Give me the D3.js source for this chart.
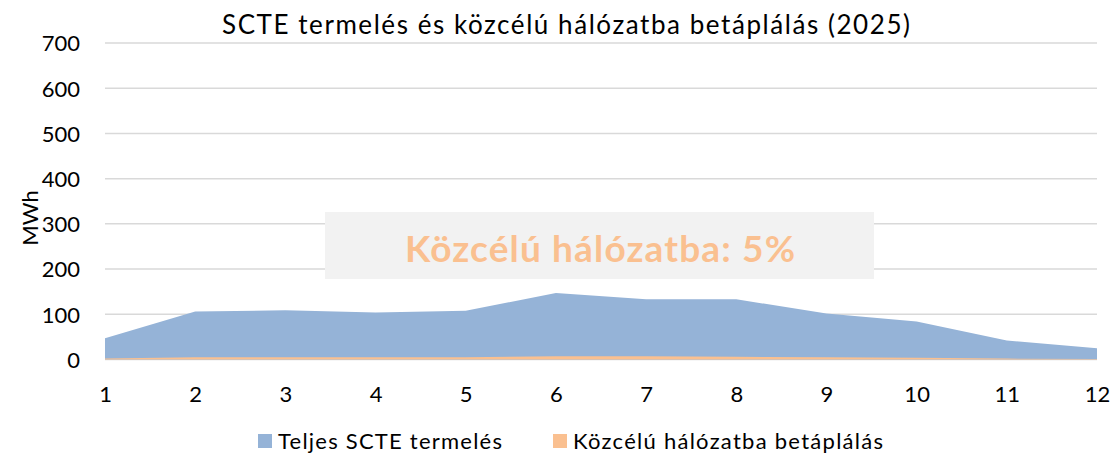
<!DOCTYPE html>
<html><head><meta charset="utf-8">
<script src="https://cdn.jsdelivr.net/npm/d3@7"></script>
<style>body{margin:0;background:#fff}svg{display:block}text{font-family:Lato,"Open Sans",sans-serif;fill:#000}</style>
</head><body><svg id="c" width="1114" height="456"></svg>
<script>
const months = [1,2,3,4,5,6,7,8,9,10,11,12];
const totalProduction = [47,106,109,104,108,147,133,133,102,84,42,25];
const gridFeedIn = [2,5,5,5,5,7,7,6,5,4,2,1];
const yTicks = [0,100,200,300,400,500,600,700];
const seriesNames = ["Teljes SCTE termelés","Közcélú hálózatba betáplálás"];
const colors = ["#95b3d7","#fac090"];

const svg = d3.select("#c");
const x = d3.scaleLinear().domain([1,12]).range([105,1097]);
const y = d3.scaleLinear().domain([0,700]).range([359.5,43]);

svg.append("g").selectAll("line").data(yTicks).join("line")
  .attr("x1",105).attr("x2",1097).attr("y1",d=>y(d)).attr("y2",d=>y(d))
  .attr("stroke","#d9d9d9").attr("stroke-width",1.5);

const area = d3.area().x((d,i)=>x(months[i])).y0(y(0)).y1(d=>y(d));
svg.append("path").datum(totalProduction).attr("d",area).attr("fill",colors[0]);
svg.append("path").datum(gridFeedIn).attr("d",area).attr("fill",colors[1]);

const yAxis = d3.axisLeft(y).tickValues(yTicks).tickSize(0).tickPadding(0);
const gy = svg.append("g").attr("transform","translate(80,0)").call(yAxis);
gy.select(".domain").remove();
gy.selectAll("text").attr("font-size",22).attr("dy","0.36em");

const xAxis = d3.axisBottom(x).tickValues(months).tickSize(0).tickPadding(0).tickFormat(d3.format("d"));
const gx = svg.append("g").attr("transform","translate(0,402)").call(xAxis);
gx.select(".domain").remove();
gx.selectAll("text").attr("font-size",22).attr("y",0).attr("dy",0);

svg.append("text").attr("x",566).attr("y",34).attr("text-anchor","middle").attr("font-size",26)
  .attr("textLength",688).attr("lengthAdjust","spacing").text("SCTE termelés és közcélú hálózatba betáplálás (2025)");
svg.append("text").attr("transform","translate(38,218) rotate(-90)").attr("text-anchor","middle").attr("font-size",22).text("MWh");

svg.append("rect").attr("x",325).attr("y",212).attr("width",549).attr("height",67).attr("fill","#f2f2f2");
svg.append("text").attr("x",600).attr("y",262).attr("text-anchor","middle").attr("font-size",37).attr("font-weight","bold")
  .attr("textLength",390).attr("lengthAdjust","spacing").style("fill","#fac090").text("Közcélú hálózatba: 5%");

const legX = [258,553];
const legW = [224,310];
const lg = svg.append("g").selectAll("g").data(seriesNames).join("g").attr("transform",(d,i)=>`translate(${legX[i]},434)`);
lg.append("rect").attr("width",14).attr("height",14).attr("fill",(d,i)=>colors[i]);
lg.append("text").attr("x",20).attr("y",15).attr("font-size",22)
  .attr("textLength",(d,i)=>legW[i]).attr("lengthAdjust","spacing").text(d=>d);
</script></body></html>
